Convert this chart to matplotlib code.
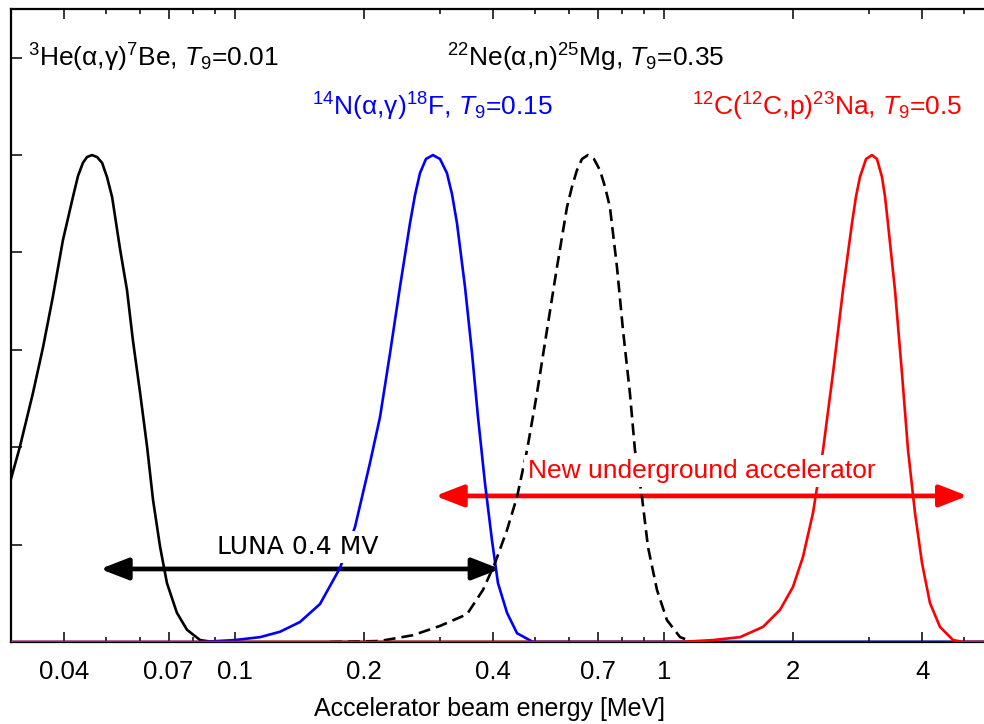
import numpy as np
import matplotlib
matplotlib.use("Agg")
import matplotlib.pyplot as plt
from matplotlib.ticker import FixedLocator, FixedFormatter, NullFormatter

plt.rcParams['font.family'] = ['Liberation Sans', 'DejaVu Sans']
plt.rcParams['mathtext.fontset'] = 'custom'
plt.rcParams['mathtext.rm'] = 'Liberation Sans'
plt.rcParams['mathtext.it'] = 'Liberation Sans:italic'

# 3He(a,g)7Be, T9=0.01 (black solid)
e_he = [0.030, 0.0315, 0.0338, 0.0357, 0.0376, 0.0397, 0.0419, 0.04305, 0.0442,
        0.04519, 0.0464, 0.04769, 0.0490, 0.0503, 0.0517, 0.0540, 0.0560, 0.0578,
        0.0601, 0.0624, 0.0644, 0.0669, 0.0694, 0.0732, 0.0773, 0.0829, 0.0889, 6.0]
g_he = [0.333, 0.400, 0.511, 0.606, 0.708, 0.825, 0.914, 0.957, 0.984,
        0.996, 1.000, 0.996, 0.984, 0.955, 0.914, 0.805, 0.723, 0.620,
        0.511, 0.400, 0.292, 0.195, 0.121, 0.060, 0.025, 0.004, 0.0, 0.0]

# 14N(a,g)18F, T9=0.15 (blue)
e_n = [0.030, 0.0829, 0.100, 0.1144, 0.1273, 0.1417, 0.1578, 0.1757, 0.1904,
       0.2064, 0.2178, 0.2298, 0.2424, 0.2558, 0.2628, 0.2699, 0.2787, 0.2893,
       0.3005, 0.3119, 0.3205, 0.3292, 0.3437, 0.3569, 0.3685, 0.3826, 0.3972,
       0.4102, 0.4306, 0.4544, 0.4951, 6.0]
g_n = [0.0, 0.0, 0.004, 0.010, 0.021, 0.041, 0.078, 0.152, 0.236,
       0.368, 0.462, 0.593, 0.729, 0.860, 0.918, 0.963, 0.992, 1.000,
       0.992, 0.963, 0.920, 0.860, 0.729, 0.593, 0.462, 0.326, 0.209,
       0.121, 0.060, 0.018, 0.0, 0.0]

# 22Ne(a,n)25Mg, T9=0.35 (black dashed)
e_ne = [0.1665, 0.2178, 0.2601, 0.3005, 0.3474, 0.3785, 0.4037, 0.4306, 0.4544,
        0.4795, 0.5058, 0.5337, 0.5631, 0.5941, 0.6103, 0.6268, 0.6439, 0.6648,
        0.6867, 0.7090, 0.7286, 0.7482, 0.7770, 0.8024, 0.8329, 0.8557, 0.8885,
        0.9178, 0.9631, 1.016, 1.090, 1.168]
g_ne = [0.0, 0.002, 0.014, 0.033, 0.057, 0.107, 0.162, 0.230, 0.298,
        0.394, 0.511, 0.641, 0.770, 0.893, 0.935, 0.969, 0.992, 1.000,
        0.992, 0.969, 0.935, 0.893, 0.770, 0.641, 0.511, 0.394, 0.298,
        0.195, 0.107, 0.045, 0.010, 0.0]

# 12C(12C,p)23Na, T9=0.5 (red)
e_c = [0.030, 1.090, 1.301, 1.504, 1.701, 1.864, 1.998, 2.109, 2.225, 2.348,
       2.477, 2.614, 2.743, 2.803, 2.863, 2.958, 3.054, 3.137, 3.222, 3.275,
       3.327, 3.455, 3.587, 3.706, 3.847, 3.995, 4.169, 4.399, 4.719, 4.977, 6.0]
g_c = [0.0, 0.0, 0.004, 0.010, 0.031, 0.066, 0.113, 0.175, 0.265, 0.394,
       0.552, 0.723, 0.860, 0.915, 0.955, 0.992, 1.000, 0.992, 0.955, 0.915,
       0.860, 0.723, 0.552, 0.394, 0.265, 0.162, 0.080, 0.031, 0.004, 0.0, 0.0]

# energy ranges of the accelerators (arrow tips)
luna_range = [0.0485, 0.415]
new_range = [0.293, 5.1]

major_ticks = [0.04, 0.07, 0.1, 0.2, 0.4, 0.7, 1, 2, 4]
major_labels = ['0.04', '0.07', '0.1', '0.2', '0.4', '0.7', '1', '2', '4']
minor_ticks = [0.05, 0.06, 0.08, 0.09, 0.3, 0.5, 0.6, 0.8, 0.9, 3, 5]

fig = plt.figure(figsize=(9.84, 7.24), dpi=100)
ax = fig.add_axes([10.7 / 984, 82 / 724, 987.1 / 984, 633 / 724])

lw = 1.9
ax.plot(e_he, g_he, color='black', lw=lw, zorder=3)
ax.plot(e_n, g_n, color='blue', lw=lw, zorder=3)
ax.plot(e_ne, g_ne, color='black', lw=lw, ls=(0, (4.5, 2.3)), zorder=3)
ax.plot(e_c, g_c, color='red', lw=lw, zorder=3)

# arrows
astyle = '<|-|>,head_length=0.85,head_width=0.33'
ax.annotate('', xy=(luna_range[1], 0.15), xytext=(luna_range[0], 0.15),
            arrowprops=dict(arrowstyle=astyle, lw=3.4, color='black',
                            mutation_scale=20, shrinkA=0, shrinkB=0), zorder=2)
ax.annotate('', xy=(new_range[1], 0.3), xytext=(new_range[0], 0.3),
            arrowprops=dict(arrowstyle=astyle, lw=3.4, color='red',
                            mutation_scale=20, shrinkA=0, shrinkB=0), zorder=2)

box = dict(facecolor='white', edgecolor='none', pad=3)
ax.text(0.140, 0.195, 'LUNA 0.4 MV', family='DejaVu Sans', fontsize=18,
        ha='center', va='center', bbox=box, zorder=4)
ax.text(1.226, 0.351, 'New underground accelerator', color='red', fontsize=19,
        ha='center', va='center', bbox=box, zorder=4)

fs = 19
ax.text(0.0329, 1.181, r'$^{3}$He(α,γ)$^{7}$Be, $T_{\mathrm{9}}$=0.01',
        fontsize=fs, color='black', ha='left', va='baseline')
ax.text(0.3119, 1.181, r'$^{22}$Ne(α,n)$^{25}$Mg, $T_{\mathrm{9}}$=0.35',
        fontsize=fs, color='black', ha='left', va='baseline')
ax.text(0.1512, 1.082, r'$^{14}$N(α,γ)$^{18}$F, $T_{\mathrm{9}}$=0.15',
        fontsize=fs, color='blue', ha='left', va='baseline')
ax.text(1.162, 1.082, r'$^{12}$C($^{12}$C,p)$^{23}$Na, $T_{\mathrm{9}}$=0.5',
        fontsize=fs, color='red', ha='left', va='baseline')

ax.set_xscale('log')
ax.set_xlim(0.03, 6.0)
ax.set_ylim(0, 1.3)
ax.xaxis.set_major_locator(FixedLocator(major_ticks))
ax.xaxis.set_major_formatter(FixedFormatter(major_labels))
ax.xaxis.set_minor_locator(FixedLocator(minor_ticks))
ax.xaxis.set_minor_formatter(NullFormatter())
ax.set_yticks([0, 0.2, 0.4, 0.6, 0.8, 1.0, 1.2])
ax.set_yticklabels([])

ax.tick_params(axis='x', which='major', direction='in', length=7.5, width=1.1,
               top=True, labelsize=18.5, pad=13)
ax.tick_params(axis='x', which='minor', direction='in', length=3.5, width=1.1,
               top=True)
ax.tick_params(axis='y', which='major', direction='in', length=8, width=1.1,
               right=False)
for s in ax.spines.values():
    s.set_linewidth(1.6)

fig.text(490 / 984, 1 - 709 / 724, 'Accelerator beam energy [MeV]',
         fontsize=18, ha='center', va='center')

fig.savefig('out.png', dpi=100)
